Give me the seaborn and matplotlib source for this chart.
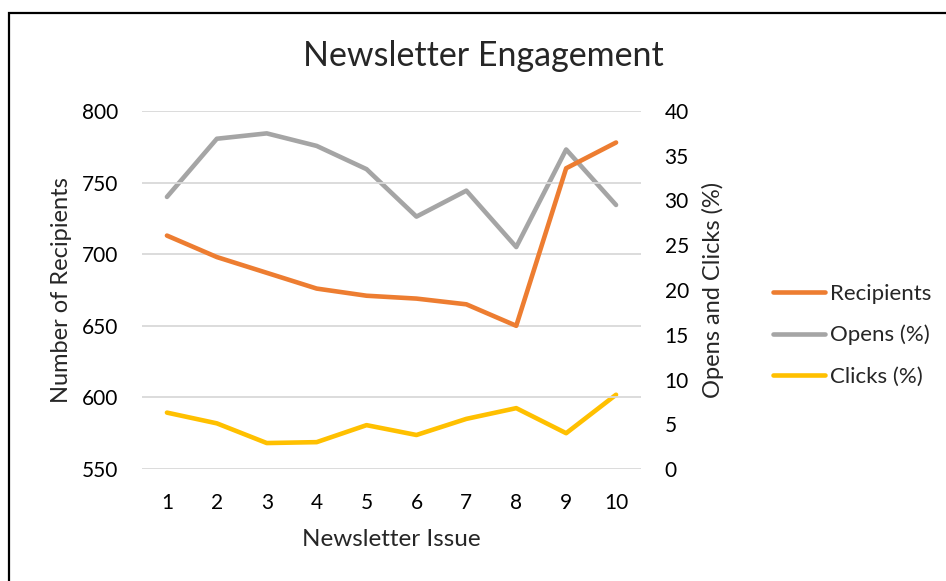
import matplotlib
matplotlib.use("Agg")
import matplotlib.pyplot as plt
import seaborn as sns
import pandas as pd
from matplotlib.patches import Rectangle

issues = [1, 2, 3, 4, 5, 6, 7, 8, 9, 10]
recipients = [713, 698, 687, 676, 671, 669, 665, 650, 760, 778]
opens_pct = [30.4, 36.9, 37.5, 36.1, 33.5, 28.2, 31.1, 24.8, 35.7, 29.5]
clicks_pct = [6.3, 5.1, 2.9, 3.0, 4.9, 3.8, 5.6, 6.8, 4.0, 8.3]

df = pd.DataFrame({"issue": issues, "Recipients": recipients,
                   "Opens (%)": opens_pct, "Clicks (%)": clicks_pct})

sns.set_style("white")
plt.rcParams["font.family"] = ["Lato", "DejaVu Sans"]

fig = plt.figure(figsize=(9.46, 5.81), dpi=100)
ax = fig.add_axes([142/946, 112/581, 499/946, 358/581])
ax2 = ax.twinx()

orange = "#ED7D31"
grey = "#A5A5A5"
yellow = "#FFC000"
lw = 3.3

sns.lineplot(data=df, x="issue", y="Recipients", ax=ax, color=orange,
             linewidth=lw, label="Recipients", legend=False,
             solid_capstyle="round", solid_joinstyle="round")
sns.lineplot(data=df, x="issue", y="Opens (%)", ax=ax2, color=grey,
             linewidth=lw, label="Opens (%)", legend=False,
             solid_capstyle="round", solid_joinstyle="round")
sns.lineplot(data=df, x="issue", y="Clicks (%)", ax=ax2, color=yellow,
             linewidth=lw, label="Clicks (%)", legend=False,
             solid_capstyle="round", solid_joinstyle="round")
# orange sits on top of grey in the reference
ax.set_zorder(ax2.get_zorder() + 1)
ax.patch.set_visible(False)

ax.set_xlim(0.5, 10.5)
ax.set_ylim(550, 800)
ax.set_yticks(range(550, 801, 50))
ax2.set_ylim(0, 40)
ax2.set_yticks(range(0, 41, 5))
ax.set_xticks(issues)

ax.grid(axis="y", color="#D9D9D9", linewidth=1.3)
ax.set_axisbelow(True)
for a in (ax, ax2):
    for s in a.spines.values():
        s.set_visible(False)
    a.tick_params(length=0, labelsize=15, colors="black", pad=17)
ax.tick_params(axis="x", pad=17)

ax.set_xlabel("Newsletter Issue", fontsize=17.5, va="center")
ax.xaxis.set_label_coords(0.5, (469 - 540) / 358)
ax.set_ylabel("Number of Recipients", fontsize=17, va="center")
ax.yaxis.set_label_coords((61 - 142) / 499, 0.5)
ax2.set_ylabel("Opens and Clicks (%)", fontsize=17, va="center")
ax2.yaxis.set_label_coords((713 - 142) / 499, 0.5)

fig.text(483/946, 1 - 56/581, "Newsletter Engagement", fontsize=24.5,
         ha="center", va="center")

h1, l1 = ax.get_legend_handles_labels()
h2, l2 = ax2.get_legend_handles_labels()
fig.legend(h1 + h2, l1 + l2, loc="center left",
           bbox_to_anchor=(773/946, 1 - 335/581), frameon=False,
           fontsize=16, handlelength=2.35, handletextpad=0.2,
           labelspacing=0.95, borderpad=0, borderaxespad=0)

fig.patches.append(Rectangle((9/946, -0.05), 1.0, 1 - 13/581 + 0.05,
                             transform=fig.transFigure, fill=False,
                             edgecolor="black", linewidth=1.6))

fig.savefig("out.png", dpi=100)
